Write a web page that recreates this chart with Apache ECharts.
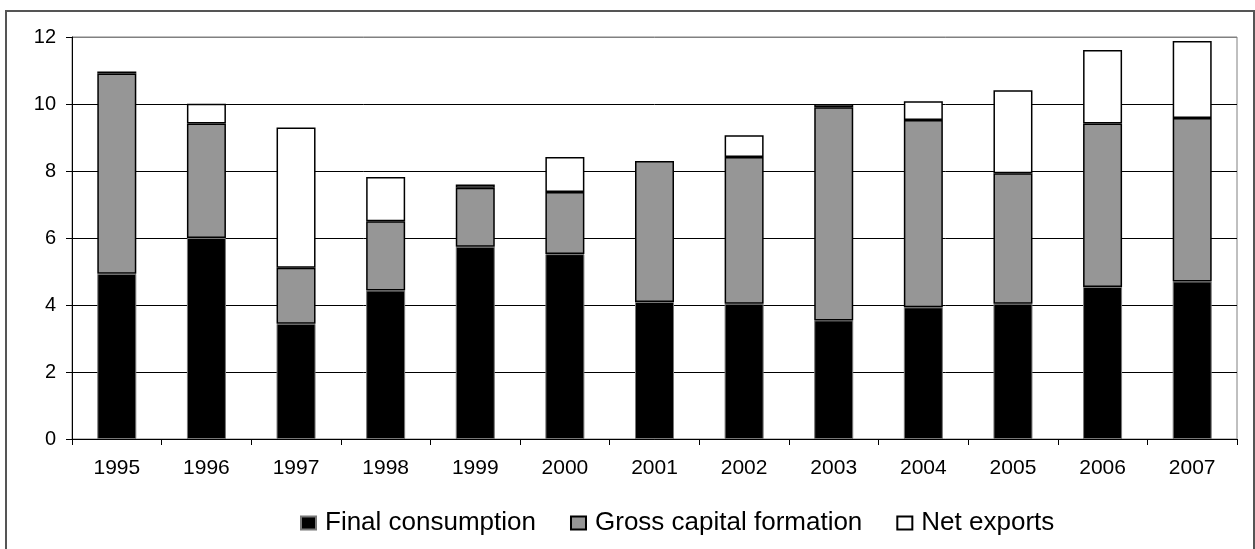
<!DOCTYPE html>
<html>
<head>
<meta charset="utf-8">
<script src="https://cdn.jsdelivr.net/npm/echarts@6/dist/echarts.min.js"></script>
<style>
  html, body { margin: 0; padding: 0; background: #fff; }
  #chart { width: 1255px; height: 549px; }
</style>
</head>
<body>
<div id="chart"></div>
<script>
var years = ['1995', '1996', '1997', '1998', '1999', '2000', '2001', '2002', '2003', '2004', '2005', '2006', '2007'];
var finalConsumption = [4.93, 6.0, 3.44, 4.43, 5.74, 5.52, 4.09, 4.04, 3.54, 3.93, 4.04, 4.54, 4.70];
var grossCapital = [5.98, 3.42, 1.67, 2.07, 1.76, 1.85, 4.21, 4.38, 6.36, 5.59, 3.89, 4.88, 4.88];
var netExports = [0.06, 0.59, 4.19, 1.32, 0.10, 1.05, null, 0.65, 0.10, 0.56, 2.48, 2.19, 2.30];
var yTicks = [0, 2, 4, 6, 8, 10, 12];

var chart = echarts.init(document.getElementById('chart'));
var font = 'Liberation Sans, Arial, sans-serif';

var option = {
  animation: false,
  backgroundColor: '#fff',
  graphic: [{
    type: 'rect',
    shape: { x: 6, y: 11, width: 1248, height: 560 },
    style: { fill: 'none', stroke: '#555', lineWidth: 2 },
    silent: true
  }],
  legend: {
    left: 295,
    top: 505,
    icon: 'rect',
    itemWidth: 15,
    itemHeight: 13,
    itemGap: 34,
    data: ['Final consumption', 'Gross capital formation', 'Net exports'],
    textStyle: { fontFamily: font, fontSize: 26, color: '#000', padding: [0, 0, 0, 4] }
  },
  grid: {
    left: 72,
    right: 18,
    top: 37,
    bottom: 110,
    show: true,
    borderColor: '#808080',
    borderWidth: 1
  },
  xAxis: {
    type: 'category',
    data: years,
    axisLine: { lineStyle: { color: '#000', width: 1 } },
    axisTick: { show: true, length: 6, lineStyle: { color: '#000' } },
    axisLabel: { color: '#000', fontFamily: font, fontSize: 21, margin: 19 }
  },
  yAxis: {
    type: 'value',
    min: 0,
    max: 12,
    interval: 2,
    axisLine: { show: true, lineStyle: { color: '#000', width: 1 } },
    axisTick: { show: true, length: 6, lineStyle: { color: '#000' } },
    axisLabel: {
      color: '#000', fontFamily: font, fontSize: 20, margin: 16,
      formatter: function (v) { return yTicks.indexOf(v) >= 0 ? String(v) : ''; }
    },
    splitLine: {
      lineStyle: { color: ['#000', '#000', '#000', '#000', '#000', '#000', '#808080'], width: 1 }
    }
  },
  series: [{
    name: 'Final consumption',
    type: 'bar',
    stack: 'gdp',
    barWidth: 39,
    itemStyle: { color: '#000', borderColor: '#777', borderWidth: 1 },
    data: finalConsumption
  }, {
    name: 'Gross capital formation',
    type: 'bar',
    stack: 'gdp',
    itemStyle: { color: '#969696', borderColor: '#000', borderWidth: 1.5 },
    data: grossCapital
  }, {
    name: 'Net exports',
    type: 'bar',
    stack: 'gdp',
    itemStyle: { color: '#fff', borderColor: '#000', borderWidth: 1.5 },
    data: netExports
  }]
};

chart.setOption(option);
</script>
</body>
</html>
